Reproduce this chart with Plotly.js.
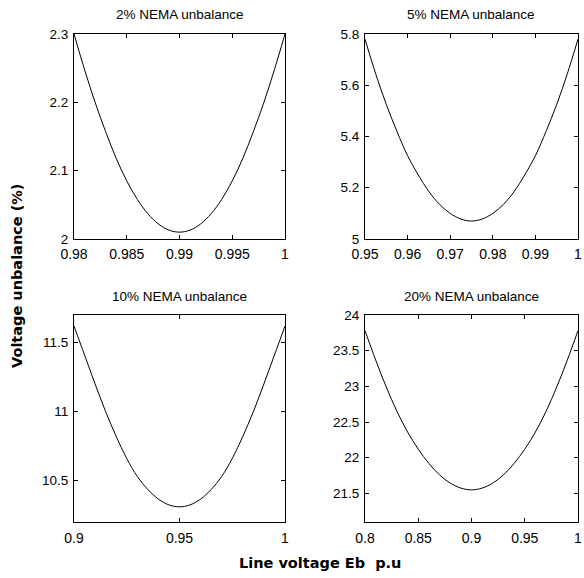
<!DOCTYPE html>
<html><head><meta charset="utf-8">
<script src="https://cdn.plot.ly/plotly-3.0.1.min.js"></script>
<style>html,body{margin:0;padding:0;background:#fff}#chart{width:584px;height:578px}</style>
</head><body><div id="chart"></div>
<script>
// Subplot titles
const titles = ["2% NEMA unbalance", "5% NEMA unbalance", "10% NEMA unbalance", "20% NEMA unbalance"];

// 2% NEMA unbalance
const x2 = [0.98,0.981,0.982,0.983,0.984,0.985,0.986,0.987,0.988,0.989,0.99,0.991,0.992,0.993,0.994,0.995,0.996,0.997,0.998,0.999,1.0];
const y2 = [2.30,2.248,2.200,2.157,2.118,2.085,2.058,2.037,2.022,2.013,2.010,2.013,2.022,2.037,2.058,2.085,2.118,2.157,2.200,2.248,2.30];

// 5% NEMA unbalance
const x5 = [0.95,0.9525,0.955,0.9575,0.96,0.9625,0.965,0.9675,0.97,0.9725,0.975,0.9775,0.98,0.9825,0.985,0.9875,0.99,0.9925,0.995,0.9975,1.0];
const y5 = [5.78,5.645,5.525,5.42,5.325,5.25,5.185,5.135,5.10,5.078,5.07,5.078,5.10,5.135,5.185,5.25,5.325,5.42,5.525,5.645,5.78];

// 10% NEMA unbalance
const x10 = [0.9,0.905,0.91,0.915,0.92,0.925,0.93,0.935,0.94,0.945,0.95,0.955,0.96,0.965,0.97,0.975,0.98,0.985,0.99,0.995,1.0];
const y10 = [11.62,11.41,11.20,11.00,10.82,10.66,10.53,10.435,10.366,10.324,10.31,10.324,10.366,10.435,10.53,10.66,10.82,11.00,11.20,11.41,11.62];

// 20% NEMA unbalance
const x20 = [0.8,0.81,0.82,0.83,0.84,0.85,0.86,0.87,0.88,0.89,0.9,0.91,0.92,0.93,0.94,0.95,0.96,0.97,0.98,0.99,1.0];
const y20 = [23.78,23.37,22.99,22.65,22.36,22.12,21.92,21.76,21.645,21.575,21.55,21.575,21.645,21.76,21.92,22.12,22.36,22.65,22.99,23.37,23.78];

// Tick labels
const xt2 = [0.98,0.985,0.99,0.995,1], xl2 = ["0.98","0.985","0.99","0.995","1"];
const yt2 = [2,2.1,2.2,2.3], yl2 = ["2","2.1","2.2","2.3"];
const xt5 = [0.95,0.96,0.97,0.98,0.99,1], xl5 = ["0.95","0.96","0.97","0.98","0.99","1"];
const yt5 = [5,5.2,5.4,5.6,5.8], yl5 = ["5","5.2","5.4","5.6","5.8"];
const xt10 = [0.9,0.95,1], xl10 = ["0.9","0.95","1"];
const yt10 = [10.5,11,11.5], yl10 = ["10.5","11","11.5"];
const xt20 = [0.8,0.85,0.9,0.95,1], xl20 = ["0.8","0.85","0.9","0.95","1"];
const yt20 = [21.5,22,22.5,23,23.5,24], yl20 = ["21.5","22","22.5","23","23.5","24"];

const W = 584, H = 578;
const colL = [74/W, 285/W], colR = [365/W, 578/W];
const rowT = [1-239/H, 1-34/H], rowB = [1-522/H, 1-315/H];

const fontFam = "Liberation Sans, Arial, sans-serif";
function ax(dom, range, tv, tt, anchor, standoff, fs){
  return {domain: dom, range: range, tickvals: tv, ticktext: tt, anchor: anchor,
    showline: true, linecolor: "#000", linewidth: 1, mirror: "allticks",
    ticks: "inside", ticklen: 4, tickcolor: "#000", showgrid: false, zeroline: false,
    ticklabelstandoff: standoff,
    tickfont: {family: fontFam, size: fs, color: "#000"}, fixedrange: true};
}
const line = {color: "#000", width: 1, shape: "spline"};
const traces = [
  {x: x2, y: y2, xaxis: "x", yaxis: "y", mode: "lines", line: line},
  {x: x5, y: y5, xaxis: "x2", yaxis: "y2", mode: "lines", line: line},
  {x: x10, y: y10, xaxis: "x3", yaxis: "y3", mode: "lines", line: line},
  {x: x20, y: y20, xaxis: "x4", yaxis: "y4", mode: "lines", line: line}
];
const tf = {family: fontFam, size: 13.5, color: "#000"};
const bf = {family: "DejaVu Sans, sans-serif", size: 14.5, color: "#000"};
const layout = {
  width: W, height: H, margin: {l: 0, r: 0, t: 0, b: 0},
  paper_bgcolor: "#fff", plot_bgcolor: "#fff", showlegend: false,
  font: {family: fontFam, color: "#000"},
  xaxis: ax(colL, [0.98, 1], xt2, xl2, "y", 2, 14),
  yaxis: ax(rowT, [2, 2.3], yt2, yl2, "x", 2, 13.5),
  xaxis2: ax(colR, [0.95, 1], xt5, xl5, "y2", 2, 14),
  yaxis2: ax(rowT, [5, 5.8], yt5, yl5, "x2", 2, 13.5),
  xaxis3: ax(colL, [0.9, 1], xt10, xl10, "y3", 3, 14),
  yaxis3: ax(rowB, [10.2, 11.7], yt10, yl10, "x3", 2, 13.5),
  xaxis4: ax(colR, [0.8, 1], xt20, xl20, "y4", 3, 14),
  yaxis4: ax(rowB, [21.1, 24], yt20, yl20, "x4", 2, 13.5),
  annotations: [
    {text: titles[0], x: (colL[0]+colL[1])/2, y: 1-14/H, xref: "paper", yref: "paper", xanchor: "center", yanchor: "middle", showarrow: false, font: tf},
    {text: titles[1], x: (colR[0]+colR[1])/2, y: 1-14/H, xref: "paper", yref: "paper", xanchor: "center", yanchor: "middle", showarrow: false, font: tf},
    {text: titles[2], x: (colL[0]+colL[1])/2, y: 1-296/H, xref: "paper", yref: "paper", xanchor: "center", yanchor: "middle", showarrow: false, font: tf},
    {text: titles[3], x: (colR[0]+colR[1])/2, y: 1-296/H, xref: "paper", yref: "paper", xanchor: "center", yanchor: "middle", showarrow: false, font: tf},
    {text: "<b>Voltage unbalance (%)</b>", x: 17/W, y: 1-276/H, xref: "paper", yref: "paper", xanchor: "center", yanchor: "middle", showarrow: false, textangle: -90, font: bf},
    {text: "<b>Line voltage Eb  p.u</b>", x: 320/W, y: 1-563/H, xref: "paper", yref: "paper", xanchor: "center", yanchor: "middle", showarrow: false, font: bf}
  ]
};
Plotly.newPlot("chart", traces, layout, {displayModeBar: false, staticPlot: true});
</script></body></html>
